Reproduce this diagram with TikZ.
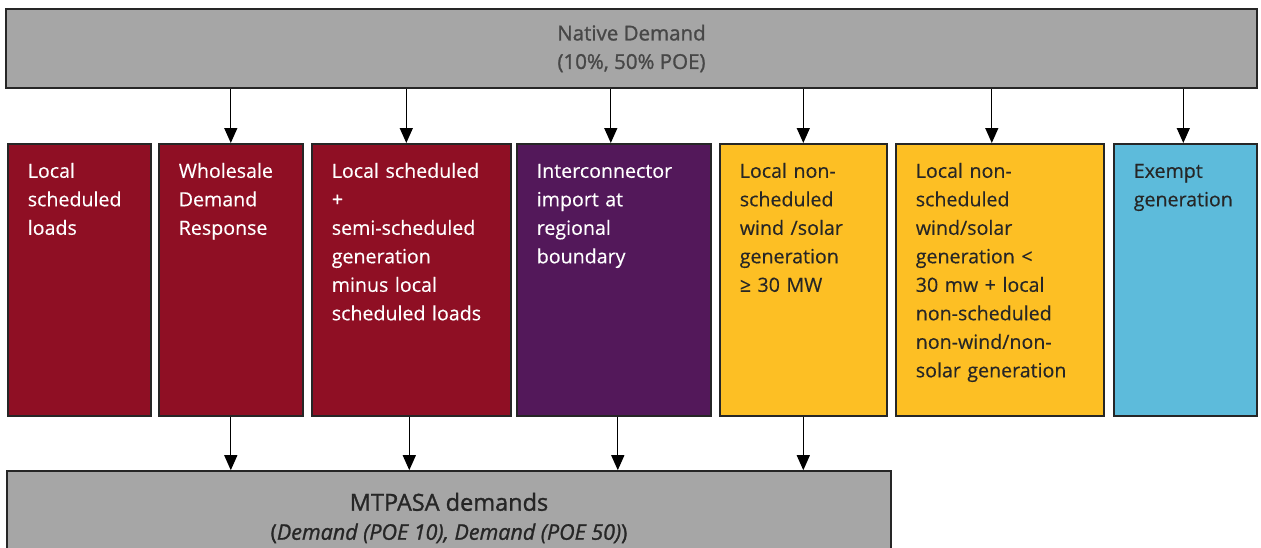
\documentclass[tikz,border=0pt]{standalone}
\usepackage{fontspec}
\setmainfont{Open Sans}[FakeBold=0.3]
\newfontfamily\headfont{Open Sans}[FakeBold=1.2]
\usetikzlibrary{arrows.meta}
\definecolor{boxgrey}{HTML}{A6A6A6}
\definecolor{boxred}{HTML}{8F0F24}
\definecolor{boxpurple}{HTML}{53185A}
\definecolor{boxyellow}{HTML}{FDBF24}
\definecolor{boxblue}{HTML}{5DBBDB}
\definecolor{inkdark}{HTML}{262626}

\begin{document}
\begin{tikzpicture}
        [x=1pt, y=-1pt, every node/.style={draw=inkdark, line width=1.6pt, shape=rectangle},
        col/.style={anchor=north west, align=left, inner xsep=20pt, inner ysep=19pt, text height=15pt, text depth=219pt, text width=#1, font=\fontsize{19.6}{28.5}\selectfont},
        bar/.style={fill=boxgrey, align=center, inner sep=0pt, text=inkdark},
        arr/.style={line width=1.3pt, -{Triangle[length=15pt, width=13pt]}}]

        \useasboundingbox (0, 0) rectangle (1261, 547);
        \clip (0, 0) rectangle (1261, 547);

        \node[bar, minimum width=1251, minimum height=79, text=black!72, font=\headfont\fontsize{20.5}{28.5}\selectfont] (native) at (631.5, 48.5) {Native Demand\\(10\%, 50\% POE)};

        \node[col=103pt, fill=boxred, text=white] (b1) at (7, 143) {Local\\scheduled\\loads};
        \node[col=104pt, fill=boxred, text=white] (b2) at (158, 143) {Wholesale\\Demand\\Response};
        \node[col=159pt, fill=boxred, text=white] (b3) at (311, 143) {Local scheduled\\+\\semi-scheduled\\generation\\minus local\\scheduled loads};
        \node[col=154pt, fill=boxpurple, text=white] (b4) at (516, 143) {Interconnector\\import at\\regional\\boundary};
        \node[col=127pt, fill=boxyellow, text=inkdark] (b5) at (719, 143) {Local non-\\scheduled\\wind /solar\\generation\\≥ 30 MW};
        \node[col=168pt, fill=boxyellow, text=inkdark] (b6) at (895, 143) {Local non-\\scheduled\\wind/solar\\generation <\\30 mw + local\\non-scheduled\\non-wind/non-\\solar generation};
        \node[col=103pt, fill=boxblue, text=inkdark] (b7) at (1113, 143) {Exempt\\generation};

        \node[bar, minimum width=884, minimum height=94, font=\headfont\fontsize{23.5}{29}\selectfont] (mtpasa) at (449, 518) {MTPASA demands\\{\fontsize{21.5}{29}\selectfont(\textit{Demand (POE 10), Demand (POE 50)})}};

        \draw[arr] (native.south -| b2.north) -- (b2.north);
        \draw[arr] ([xshift=-5pt]native.south -| b3.north) -- ([xshift=-5pt]b3.north);
        \draw[arr] ([xshift=-3pt]native.south -| b4.north) -- ([xshift=-3pt]b4.north);
        \draw[arr] (native.south -| b5.north) -- (b5.north);
        \draw[arr] ([xshift=-8pt]native.south -| b6.north) -- ([xshift=-8pt]b6.north);
        \draw[arr] ([xshift=-2pt]native.south -| b7.north) -- ([xshift=-2pt]b7.north);

        \draw[arr] (b2.south) -- (b2.south |- mtpasa.north);
        \draw[arr] ([xshift=-2pt]b3.south) -- ([xshift=-2pt]b3.south |- mtpasa.north);
        \draw[arr] ([xshift=4pt]b4.south) -- ([xshift=4pt]b4.south |- mtpasa.north);
        \draw[arr] (b5.south) -- (b5.south |- mtpasa.north);

      \end{tikzpicture}
\end{document}
